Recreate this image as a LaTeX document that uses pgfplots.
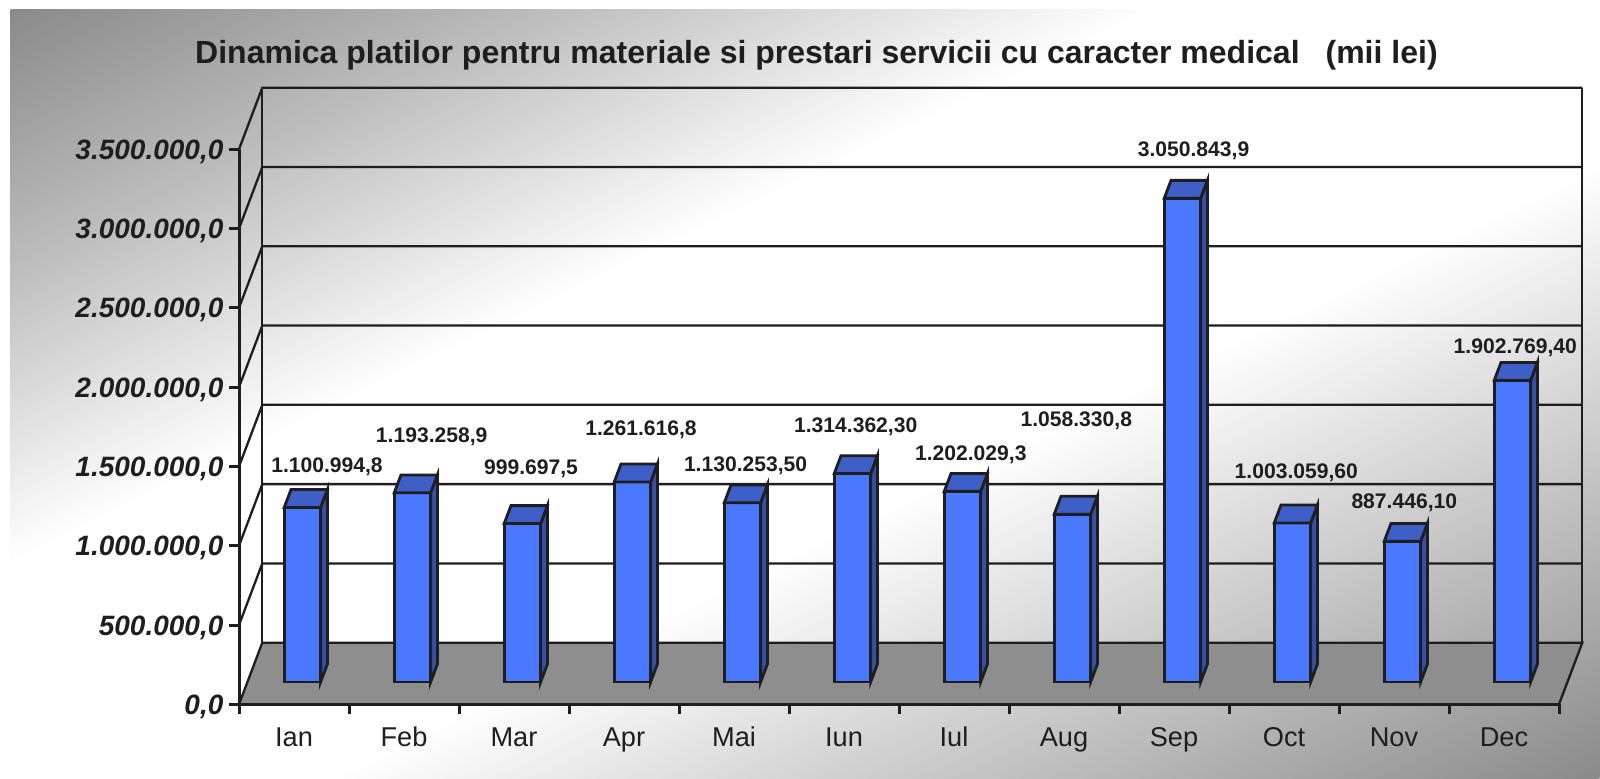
\documentclass[border=0pt]{standalone}
\usepackage{fontspec}
\setmainfont{Liberation Sans}
\usepackage{pgfplots}
\pgfplotsset{compat=1.18}
\usepackage{pgfplotstable}

\definecolor{barfront}{RGB}{74,121,255}
\definecolor{barside}{RGB}{52,80,168}
\definecolor{bartop}{RGB}{62,94,200}
\definecolor{floorc}{RGB}{142,142,142}
\definecolor{linec}{RGB}{30,30,30}
\definecolor{bgdark}{RGB}{138,138,138}
\definecolor{bgmid}{RGB}{186,186,186}
\pgfdeclarehorizontalshading{bgshade}{100bp}{color(0bp)=(bgdark); color(25bp)=(bgdark); color(33bp)=(bgmid); color(43bp)=(white); color(55bp)=(white); color(75bp)=(bgdark); color(100bp)=(bgdark)}

\pgfplotstableread{
x v
0 1100994.8
1 1193258.9
2 999697.5
3 1261616.8
4 1130253.5
5 1314362.3
6 1202029.3
7 1058330.8
8 3050843.9
9 1003059.6
10 887446.1
11 1902769.4
}\bardata

% corner templates: x = index + a, y = b*value + c
\pgfplotstableread{
a b c
-0.08873 0 140623
0.24218 0 140623
0.24218 1 140623
-0.08873 1 140623
}\tplfront
\pgfplotstableread{
a b c
0.24218 0 140623
0.30363 0 253247
0.30363 1 253247
0.24218 1 140623
}\tplside
\pgfplotstableread{
a b c
-0.08873 1 140623
0.24218 1 140623
0.30363 1 253247
-0.02728 1 253247
}\tpltop

\begin{document}
\begin{tikzpicture}
\begin{scope}[x=0.5pt,y=0.5pt]
\fill[white] (0,0) rectangle (1600,778);
\useasboundingbox (0,0) rectangle (1600,778);
\begin{scope}
\clip (10,0) rectangle (1600,768);
\begin{scope}[transform canvas={cm={15.9,-7.68,15.9,7.68,(10,768)}}]
\shade[shading=bgshade] (0,-50) rectangle (100,50);
\end{scope}
\end{scope}

\tikzset{wall/.style={draw=linec, line width=1.15pt}}
\filldraw[fill=floorc, wall] (239,73.7) -- (1559,73.7) -- (1582.3,135.3) -- (262.3,135.3) -- cycle;
\foreach \k in {1,...,7}{
  \draw[wall] (239,{73.7+79.29*\k}) -- (262.3,{135.3+79.29*\k}) -- (1582.3,{135.3+79.29*\k});
}
\draw[wall] (262.3,135.3) -- (262.3,690.3);
\draw[wall] (1582.3,135.3) -- (1582.3,690.3);
\end{scope}

\begin{axis}[
  at={(119.5pt,36.85pt)}, anchor=south west,
  scale only axis, width=660pt, height=277.5pt,
  xmin=-0.5, xmax=11.5, ymin=0, ymax=3500000,
  clip=false,
  axis lines*=left,
  axis line style={line width=1.5pt, draw=linec},
  tick align=outside,
  major tick length=5pt, minor tick length=5pt,
  scaled y ticks=false,
  ytick={0,500000,1000000,1500000,2000000,2500000,3000000,3500000},
  yticklabels={{0,0},{500.000,0},{1.000.000,0},{1.500.000,0},{2.000.000,0},{2.500.000,0},{3.000.000,0},{3.500.000,0}},
  y tick style={line width=1.5pt, draw=linec},
  yticklabel style={font=\fontsize{14}{17}\selectfont\bfseries\itshape, text=linec, anchor=base east, inner sep=0pt, xshift=-2.6pt, yshift=-5pt},
  xtick={0,...,11},
  xticklabels={Ian,Feb,Mar,Apr,Mai,Iun,Iul,Aug,Sep,Oct,Nov,Dec},
  major x tick style={draw=none},
  minor xtick={-0.5,0.5,...,11.5},
  minor x tick style={line width=1.5pt, draw=linec},
  xticklabel style={font=\fontsize{13.6}{16}\selectfont, text=linec, anchor=base, yshift=-16.2pt},
]
\pgfplotsforeachungrouped \i in {0,...,11}{%
  \pgfplotstablegetelem{\i}{v}\of\bardata
  \let\barval\pgfplotsretval
  \addplot[draw=linec, line width=1.4pt, fill=barfront] table[x expr=\thisrow{a}+\i, y expr=\thisrow{b}*\barval+\thisrow{c}] {\tplfront} -- cycle;
  \addplot[draw=linec, line width=1.4pt, fill=barside] table[x expr=\thisrow{a}+\i, y expr=\thisrow{b}*\barval+\thisrow{c}] {\tplside} -- cycle;
  \addplot[draw=linec, line width=1.4pt, fill=bartop] table[x expr=\thisrow{a}+\i, y expr=\thisrow{b}*\barval+\thisrow{c}] {\tpltop} -- cycle;
}
\end{axis}

\begin{scope}[x=0.5pt,y=0.5pt]
\tikzset{dl/.style={anchor=base, text=linec, inner sep=0pt, font=\bfseries\fontsize{10.55}{12}\selectfont}}
\node[dl] at (327,306) {1.100.994,8};
\node[dl] at (431.7,335.3) {1.193.258,9};
\node[dl] at (531,304) {999.697,5};
\node[dl] at (641,342.3) {1.261.616,8};
\node[dl] at (745.6,306.3) {1.130.253,50};
\node[dl] at (855.7,345.7) {1.314.362,30};
\node[dl] at (970.8,318) {1.202.029,3};
\node[dl] at (1076.3,351.3) {1.058.330,8};
\node[dl] at (1193.5,621.3) {3.050.843,9};
\node[dl] at (1296.3,299.7) {1.003.059,60};
\node[dl] at (1404.3,269.7) {887.446,10};
\node[dl] at (1515.3,424.7) {1.902.769,40};

\node[anchor=base, inner sep=0pt, text=linec, font=\bfseries\fontsize{16}{19}\selectfont] at (816.5,714.5) {Dinamica platilor pentru materiale si prestari servicii cu caracter medical\hspace{13pt}(mii lei)};
\end{scope}
\end{tikzpicture}
\end{document}
